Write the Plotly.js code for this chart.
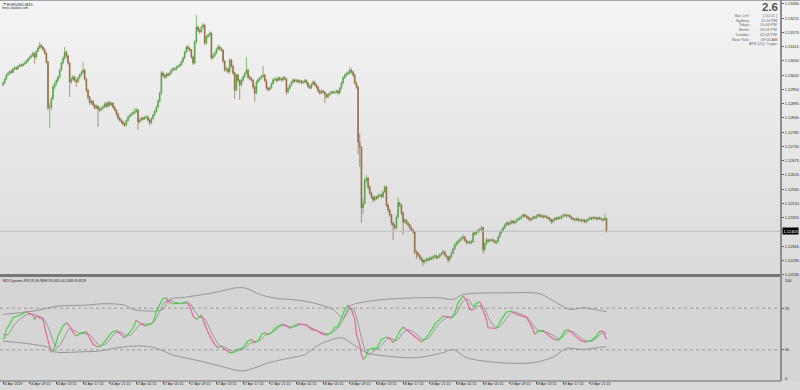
<!DOCTYPE html>
<html>
<head>
<meta charset="utf-8">
<script src="https://cdn.plot.ly/plotly-3.0.1.min.js"></script>
<style>
html,body{margin:0;padding:0;background:#d8d8d8;}
#wrap{position:relative;width:800px;height:390px;overflow:hidden;
background:linear-gradient(to bottom,#a4a4a4 0px,#a4a4a4 1px,#f4f4f4 1px,#dbdbdb 274px,#d5d5d5 274px,#d5d5d5 381px,#d9d9d9 381px,#d9d9d9 390px);}
#chart{position:absolute;left:0;top:0;width:800px;height:390px;}
</style>
</head>
<body>
<div id="wrap"><div id="chart"></div></div>
<script>
// ---------- EURUSD M15 candles (bar 0 = 16 Apr 2019 05:15) ----------
const open = [
1.12968,1.12975,1.12990,1.13006,1.13012,1.13020,1.13016,1.13029,1.13034,1.13030,
1.13040,1.13045,1.13042,1.13048,1.13052,1.13060,1.13068,1.13075,1.13080,1.13090,
1.13074,1.13098,1.13110,1.13120,1.13114,1.13105,1.13091,1.13056,1.12879,1.12882,
1.12915,1.12960,1.12972,1.12985,1.12998,1.13025,1.13052,1.13070,1.13095,1.13080,
1.13052,1.12979,1.12990,1.12998,1.12985,1.12979,1.12995,1.13006,1.13015,1.13025,
1.12990,1.12948,1.12920,1.12898,1.12905,1.12890,1.12879,1.12885,1.12875,1.12871,
1.12878,1.12882,1.12895,1.12885,1.12900,1.12890,1.12897,1.12882,1.12871,1.12855,
1.12840,1.12832,1.12825,1.12818,1.12813,1.12830,1.12844,1.12850,1.12856,1.12859,
1.12865,1.12871,1.12825,1.12832,1.12840,1.12836,1.12842,1.12844,1.12832,1.12821,
1.12838,1.12852,1.12866,1.12882,1.12905,1.12936,1.13014,1.13005,1.12998,1.13010,
1.13006,1.13015,1.13025,1.13030,1.13028,1.13037,1.13040,1.13045,1.13058,1.13072,
1.13095,1.13114,1.13108,1.13102,1.13075,1.13052,1.13133,1.13191,1.13180,1.13172,
1.13190,1.13199,1.13129,1.13153,1.13160,1.13168,1.13072,1.13080,1.13091,1.13105,
1.13114,1.13108,1.13102,1.13060,1.13025,1.13030,1.13018,1.13064,1.13040,1.13014,
1.12948,1.13006,1.12985,1.12967,1.12985,1.12998,1.13012,1.13025,1.12998,1.12992,
1.12987,1.12960,1.12936,1.12979,1.12988,1.12994,1.13000,1.13006,1.12985,1.12956,
1.12950,1.12956,1.12972,1.12987,1.12990,1.12985,1.12994,1.12990,1.12987,1.12995,
1.12991,1.12940,1.12955,1.12967,1.12978,1.12987,1.12982,1.12985,1.12979,1.12983,
1.12976,1.12979,1.12985,1.12975,1.12962,1.12956,1.12970,1.12979,1.12968,1.12960,
1.12945,1.12936,1.12944,1.12940,1.12932,1.12921,1.12930,1.12936,1.12940,1.12938,
1.12940,1.12944,1.12936,1.12955,1.12975,1.12995,1.13006,1.13010,1.13014,1.13025,
1.13018,1.13006,1.12975,1.12960,1.12747,1.12728,1.12493,1.12512,1.12601,1.12608,
1.12574,1.12550,1.12535,1.12523,1.12535,1.12531,1.12540,1.12543,1.12536,1.12554,
1.12574,1.12504,1.12485,1.12466,1.12435,1.12425,1.12416,1.12458,1.12512,1.12504,
1.12473,1.12439,1.12445,1.12435,1.12428,1.12416,1.12408,1.12400,1.12323,1.12319,
1.12310,1.12300,1.12292,1.12284,1.12290,1.12296,1.12292,1.12300,1.12298,1.12304,
1.12308,1.12300,1.12304,1.12312,1.12318,1.12323,1.12310,1.12304,1.12292,1.12305,
1.12319,1.12335,1.12351,1.12358,1.12365,1.12370,1.12376,1.12381,1.12368,1.12359,
1.12362,1.12358,1.12363,1.12396,1.12392,1.12400,1.12405,1.12410,1.12416,1.12332,
1.12355,1.12370,1.12365,1.12368,1.12370,1.12366,1.12360,1.12363,1.12380,1.12396,
1.12405,1.12416,1.12428,1.12435,1.12430,1.12435,1.12442,1.12436,1.12439,1.12446,
1.12450,1.12454,1.12460,1.12466,1.12462,1.12458,1.12452,1.12447,1.12452,1.12458,
1.12455,1.12462,1.12466,1.12460,1.12463,1.12458,1.12461,1.12456,1.12454,1.12446,
1.12439,1.12448,1.12454,1.12450,1.12456,1.12454,1.12460,1.12463,1.12466,1.12462,
1.12464,1.12458,1.12452,1.12450,1.12447,1.12451,1.12445,1.12447,1.12443,1.12446,
1.12439,1.12444,1.12450,1.12454,1.12451,1.12456,1.12454,1.12450,1.12455,1.12451,
1.12449,1.12447,1.12452];
const high = [
1.12980,1.12994,1.13010,1.13018,1.13024,1.13026,1.13033,1.13040,1.13038,1.13044,
1.13050,1.13049,1.13053,1.13058,1.13064,1.13072,1.13080,1.13086,1.13096,1.13093,
1.13102,1.13118,1.13133,1.13126,1.13118,1.13108,1.13094,1.13060,1.12900,1.12922,
1.12966,1.12980,1.12990,1.13004,1.13030,1.13058,1.13078,1.13114,1.13100,1.13084,
1.13055,1.12998,1.13006,1.13003,1.12990,1.13000,1.13012,1.13022,1.13056,1.13030,
1.12995,1.12952,1.12925,1.12912,1.12910,1.12895,1.12892,1.12890,1.12882,1.12884,
1.12890,1.12902,1.12900,1.12906,1.12905,1.12903,1.12900,1.12886,1.12875,1.12860,
1.12846,1.12838,1.12830,1.12824,1.12835,1.12850,1.12856,1.12862,1.12866,1.12879,
1.12878,1.12875,1.12840,1.12846,1.12845,1.12848,1.12852,1.12848,1.12836,1.12843,
1.12857,1.12871,1.12888,1.12911,1.12942,1.13022,1.13020,1.13010,1.13016,1.13015,
1.13020,1.13030,1.13036,1.13035,1.13042,1.13046,1.13050,1.13063,1.13078,1.13100,
1.13120,1.13122,1.13114,1.13106,1.13080,1.13140,1.13238,1.13198,1.13186,1.13196,
1.13207,1.13202,1.13160,1.13166,1.13175,1.13171,1.13088,1.13097,1.13111,1.13124,
1.13120,1.13113,1.13106,1.13064,1.13038,1.13035,1.13070,1.13068,1.13045,1.13018,
1.13012,1.13010,1.12990,1.12992,1.13004,1.13018,1.13075,1.13030,1.13004,1.12998,
1.12990,1.12965,1.12985,1.12995,1.13000,1.13006,1.13040,1.13010,1.12990,1.12962,
1.12962,1.12978,1.12993,1.12998,1.12995,1.13000,1.13000,1.12996,1.13003,1.13002,
1.12995,1.12962,1.12973,1.12984,1.12993,1.12992,1.12991,1.12990,1.12989,1.12987,
1.12985,1.12991,1.12989,1.12980,1.12967,1.12976,1.12985,1.12983,1.12972,1.12964,
1.12950,1.12950,1.12949,1.12945,1.12936,1.12936,1.12942,1.12946,1.12945,1.12946,
1.12950,1.12948,1.12960,1.12981,1.13001,1.13012,1.13018,1.13022,1.13037,1.13030,
1.13022,1.13010,1.12980,1.12964,1.12780,1.12732,1.12530,1.12610,1.12620,1.12612,
1.12580,1.12556,1.12540,1.12542,1.12540,1.12546,1.12550,1.12548,1.12560,1.12580,
1.12578,1.12510,1.12490,1.12470,1.12440,1.12432,1.12465,1.12535,1.12518,1.12508,
1.12478,1.12452,1.12450,1.12440,1.12432,1.12420,1.12412,1.12404,1.12330,1.12324,
1.12315,1.12305,1.12296,1.12296,1.12302,1.12300,1.12306,1.12305,1.12310,1.12314,
1.12312,1.12310,1.12318,1.12324,1.12332,1.12327,1.12314,1.12308,1.12310,1.12325,
1.12340,1.12357,1.12364,1.12372,1.12377,1.12383,1.12390,1.12385,1.12372,1.12368,
1.12366,1.12370,1.12402,1.12400,1.12406,1.12412,1.12416,1.12424,1.12420,1.12360,
1.12376,1.12374,1.12373,1.12376,1.12374,1.12370,1.12368,1.12386,1.12402,1.12411,
1.12422,1.12434,1.12441,1.12440,1.12441,1.12448,1.12446,1.12445,1.12452,1.12456,
1.12460,1.12466,1.12473,1.12470,1.12467,1.12462,1.12456,1.12458,1.12464,1.12462,
1.12468,1.12472,1.12470,1.12469,1.12467,1.12466,1.12465,1.12460,1.12458,1.12450,
1.12453,1.12459,1.12458,1.12462,1.12460,1.12466,1.12470,1.12473,1.12470,1.12469,
1.12468,1.12462,1.12456,1.12454,1.12456,1.12455,1.12452,1.12451,1.12451,1.12450,
1.12449,1.12455,1.12460,1.12458,1.12461,1.12460,1.12458,1.12460,1.12459,1.12455,
1.12453,1.12470,1.12456];
const low = [
1.12962,1.12971,1.12986,1.13001,1.13008,1.13010,1.13013,1.13025,1.13024,1.13027,
1.13036,1.13037,1.13038,1.13044,1.13049,1.13055,1.13064,1.13071,1.13075,1.13050,
1.13070,1.13094,1.13105,1.13108,1.13098,1.13085,1.13050,1.12870,1.12801,1.12870,
1.12910,1.12950,1.12965,1.12980,1.12993,1.13020,1.13046,1.13065,1.13072,1.13045,
1.12921,1.12972,1.12984,1.12978,1.12960,1.12975,1.12990,1.13001,1.13010,1.12984,
1.12940,1.12912,1.12890,1.12892,1.12884,1.12872,1.12874,1.12805,1.12862,1.12866,
1.12873,1.12878,1.12879,1.12880,1.12884,1.12886,1.12876,1.12865,1.12848,1.12833,
1.12826,1.12818,1.12810,1.12805,1.12808,1.12826,1.12840,1.12846,1.12851,1.12854,
1.12860,1.12794,1.12818,1.12826,1.12830,1.12832,1.12837,1.12826,1.12812,1.12816,
1.12833,1.12848,1.12861,1.12878,1.12900,1.12930,1.12996,1.12990,1.12993,1.13000,
1.13002,1.13010,1.13020,1.13022,1.13024,1.13032,1.13036,1.13041,1.13053,1.13068,
1.13090,1.13100,1.13095,1.13068,1.13045,1.13048,1.13128,1.13172,1.13164,1.13168,
1.13185,1.13120,1.13124,1.13148,1.13155,1.13064,1.13066,1.13075,1.13086,1.13100,
1.13100,1.13096,1.13052,1.13018,1.13020,1.13010,1.13014,1.13034,1.13006,1.12913,
1.12942,1.12978,1.12910,1.12962,1.12980,1.12994,1.13008,1.12990,1.12985,1.12980,
1.12952,1.12902,1.12930,1.12974,1.12983,1.12990,1.12995,1.12978,1.12948,1.12942,
1.12944,1.12952,1.12968,1.12982,1.12978,1.12980,1.12984,1.12980,1.12982,1.12985,
1.12929,1.12935,1.12950,1.12962,1.12973,1.12976,1.12977,1.12973,1.12974,1.12970,
1.12971,1.12974,1.12969,1.12956,1.12950,1.12951,1.12965,1.12962,1.12953,1.12938,
1.12930,1.12931,1.12934,1.12898,1.12914,1.12916,1.12926,1.12931,1.12932,1.12933,
1.12935,1.12930,1.12932,1.12950,1.12970,1.12990,1.13000,1.13005,1.13008,1.13010,
1.12998,1.12968,1.12952,1.12700,1.12651,1.12435,1.12470,1.12505,1.12590,1.12565,
1.12542,1.12528,1.12515,1.12518,1.12524,1.12526,1.12535,1.12530,1.12532,1.12550,
1.12496,1.12476,1.12458,1.12426,1.12370,1.12408,1.12412,1.12452,1.12496,1.12465,
1.12389,1.12432,1.12428,1.12420,1.12408,1.12400,1.12392,1.12315,1.12296,1.12302,
1.12292,1.12284,1.12270,1.12278,1.12285,1.12286,1.12288,1.12292,1.12293,1.12299,
1.12294,1.12296,1.12300,1.12308,1.12314,1.12304,1.12298,1.12280,1.12288,1.12300,
1.12315,1.12330,1.12346,1.12353,1.12360,1.12366,1.12371,1.12362,1.12352,1.12354,
1.12352,1.12353,1.12358,1.12386,1.12388,1.12396,1.12400,1.12406,1.12315,1.12326,
1.12350,1.12358,1.12360,1.12363,1.12360,1.12354,1.12352,1.12358,1.12376,1.12391,
1.12400,1.12411,1.12422,1.12424,1.12425,1.12430,1.12430,1.12431,1.12434,1.12441,
1.12446,1.12449,1.12455,1.12456,1.12452,1.12446,1.12440,1.12442,1.12447,1.12449,
1.12450,1.12457,1.12455,1.12455,1.12452,1.12453,1.12450,1.12448,1.12440,1.12432,
1.12434,1.12443,1.12444,1.12446,1.12448,1.12449,1.12455,1.12458,1.12456,1.12457,
1.12452,1.12446,1.12444,1.12440,1.12442,1.12439,1.12440,1.12437,1.12438,1.12433,
1.12435,1.12440,1.12446,1.12446,1.12447,1.12449,1.12444,1.12446,1.12446,1.12443,
1.12441,1.12443,1.12398];
const close = [
1.12975,1.12990,1.13006,1.13012,1.13020,1.13016,1.13029,1.13034,1.13030,1.13040,
1.13045,1.13042,1.13048,1.13052,1.13060,1.13068,1.13075,1.13080,1.13090,1.13074,
1.13098,1.13110,1.13120,1.13114,1.13105,1.13091,1.13056,1.12879,1.12882,1.12915,
1.12960,1.12972,1.12985,1.12998,1.13025,1.13052,1.13070,1.13095,1.13080,1.13052,
1.12979,1.12990,1.12998,1.12985,1.12979,1.12995,1.13006,1.13015,1.13025,1.12990,
1.12948,1.12920,1.12898,1.12905,1.12890,1.12879,1.12885,1.12875,1.12871,1.12878,
1.12882,1.12895,1.12885,1.12900,1.12890,1.12897,1.12882,1.12871,1.12855,1.12840,
1.12832,1.12825,1.12818,1.12813,1.12830,1.12844,1.12850,1.12856,1.12859,1.12865,
1.12871,1.12825,1.12832,1.12840,1.12836,1.12842,1.12844,1.12832,1.12821,1.12838,
1.12852,1.12866,1.12882,1.12905,1.12936,1.13014,1.13005,1.12998,1.13010,1.13006,
1.13015,1.13025,1.13030,1.13028,1.13037,1.13040,1.13045,1.13058,1.13072,1.13095,
1.13114,1.13108,1.13102,1.13075,1.13052,1.13133,1.13191,1.13180,1.13172,1.13190,
1.13199,1.13129,1.13153,1.13160,1.13168,1.13072,1.13080,1.13091,1.13105,1.13114,
1.13108,1.13102,1.13060,1.13025,1.13030,1.13018,1.13064,1.13040,1.13014,1.12948,
1.13006,1.12985,1.12967,1.12985,1.12998,1.13012,1.13025,1.12998,1.12992,1.12987,
1.12960,1.12936,1.12979,1.12988,1.12994,1.13000,1.13006,1.12985,1.12956,1.12950,
1.12956,1.12972,1.12987,1.12990,1.12985,1.12994,1.12990,1.12987,1.12995,1.12991,
1.12940,1.12955,1.12967,1.12978,1.12987,1.12982,1.12985,1.12979,1.12983,1.12976,
1.12979,1.12985,1.12975,1.12962,1.12956,1.12970,1.12979,1.12968,1.12960,1.12945,
1.12936,1.12944,1.12940,1.12932,1.12921,1.12930,1.12936,1.12940,1.12938,1.12940,
1.12944,1.12936,1.12955,1.12975,1.12995,1.13006,1.13010,1.13014,1.13025,1.13018,
1.13006,1.12975,1.12960,1.12747,1.12728,1.12493,1.12512,1.12601,1.12608,1.12574,
1.12550,1.12535,1.12523,1.12535,1.12531,1.12540,1.12543,1.12536,1.12554,1.12574,
1.12504,1.12485,1.12466,1.12435,1.12425,1.12416,1.12458,1.12512,1.12504,1.12473,
1.12439,1.12445,1.12435,1.12428,1.12416,1.12408,1.12400,1.12323,1.12319,1.12310,
1.12300,1.12292,1.12284,1.12290,1.12296,1.12292,1.12300,1.12298,1.12304,1.12308,
1.12300,1.12304,1.12312,1.12318,1.12323,1.12310,1.12304,1.12292,1.12305,1.12319,
1.12335,1.12351,1.12358,1.12365,1.12370,1.12376,1.12381,1.12368,1.12359,1.12362,
1.12358,1.12363,1.12396,1.12392,1.12400,1.12405,1.12410,1.12416,1.12332,1.12355,
1.12370,1.12365,1.12368,1.12370,1.12366,1.12360,1.12363,1.12380,1.12396,1.12405,
1.12416,1.12428,1.12435,1.12430,1.12435,1.12442,1.12436,1.12439,1.12446,1.12450,
1.12454,1.12460,1.12466,1.12462,1.12458,1.12452,1.12447,1.12452,1.12458,1.12455,
1.12462,1.12466,1.12460,1.12463,1.12458,1.12461,1.12456,1.12454,1.12446,1.12439,
1.12448,1.12454,1.12450,1.12456,1.12454,1.12460,1.12463,1.12466,1.12462,1.12464,
1.12458,1.12452,1.12450,1.12447,1.12451,1.12445,1.12447,1.12443,1.12446,1.12439,
1.12444,1.12450,1.12454,1.12451,1.12456,1.12454,1.12450,1.12455,1.12451,1.12449,
1.12447,1.12452,1.12403];

// ---------- Dynamic RSI (9) ----------
const rsiBar = [0,1,2,4,6,9,12,14,16,18,
19,20,22,24,26,28,29,31,33,36,
38,40,42,44,47,50,52,54,57,59,
62,65,68,71,73,75,78,80,82,85,
87,90,92,94,96,98,99,101,104,107,
110,112,114,116,118,119,121,124,127,129,
131,133,136,138,141,144,147,149,151,153,
155,157,159,161,164,167,170,172,175,177,
179,182,185,188,191,194,197,199,201,203,
205,207,209,211,212,214,215,216,218,219,
221,224,227,230,232,234,236,238,240,242,
245,248,251,253,256,259,262,264,266,269,
271,273,276,278,280,282,283,286,288,290,
291,294,296,299,302,305,307,311,314,317,
319,321,324,326,329,332,334,337,339,341,
344,347,350,353,356,358,360,362];
const rsiValue = [40.0,41.6,49.6,54.4,60.8,62.4,64.7,67.2,64.7,63.4,
59.2,62.4,60.8,59.2,44.8,32.0,27.2,32.0,43.2,52.8,
56.0,52.8,46.4,43.2,46.4,47.3,41.6,35.2,32.7,33.6,
40.0,46.4,48.7,44.8,41.6,44.8,51.2,58.3,56.0,52.8,
54.4,56.0,67.2,73.6,79.4,80.0,76.8,74.3,74.3,74.6,
76.3,72.0,62.4,59.2,62.4,63.4,54.4,43.2,35.2,32.0,
33.6,30.4,27.2,27.2,30.4,32.0,38.4,40.0,36.8,38.4,
44.8,46.4,44.8,46.4,51.9,54.4,52.8,50.6,53.8,55.1,
54.4,53.8,49.6,48.7,45.5,44.1,46.4,51.2,52.8,60.8,
68.8,73.0,68.8,59.2,44.8,35.2,25.6,20.8,24.0,29.5,
31.3,31.3,40.0,42.3,40.9,36.8,41.6,48.0,51.9,49.6,
45.5,41.6,37.7,40.0,46.4,54.4,59.2,62.4,62.0,60.2,
65.6,75.2,81.6,78.4,68.8,68.4,73.6,76.3,67.2,59.2,
51.2,50.8,50.6,59.2,66.3,67.2,64.7,62.4,61.5,52.8,
44.8,48.0,48.7,45.5,41.6,39.1,40.0,48.0,49.6,46.4,
42.3,38.4,37.7,39.1,43.2,48.0,47.3,40.3];

const signalBar = [0,3,6,9,12,15,18,21,24,27,
30,32,34,37,40,43,46,49,52,55,
58,61,64,67,70,73,76,79,82,85,
88,91,94,97,100,103,106,109,112,115,
118,121,124,127,130,133,136,139,142,145,
148,151,154,157,160,163,166,169,172,175,
178,181,184,187,190,193,196,199,202,205,
208,210,212,214,216,218,220,222,225,228,
231,233,235,237,240,243,246,249,252,255,
258,261,264,267,270,273,276,279,282,285,
288,291,294,297,300,303,306,309,312,315,
318,321,324,327,330,333,336,339,342,345,
348,351,354,357,360,362];
const signalValue = [44.6,44.6,52.2,57.8,61.6,64.4,64.4,62.5,60.6,52.2,
39.0,32.4,34.3,42.7,50.3,48.4,45.6,45.6,44.6,39.0,
34.3,35.2,39.9,45.6,47.4,44.6,43.7,48.4,54.0,55.0,
54.0,57.8,67.2,75.7,77.6,75.7,74.8,74.8,74.8,67.2,
61.6,59.7,50.3,40.9,34.3,32.4,29.5,28.6,29.5,31.4,
36.1,38.0,39.0,43.7,45.6,48.4,52.2,54.0,52.2,52.2,
54.0,54.0,52.2,49.3,47.4,45.6,45.6,48.4,53.1,61.6,
69.1,69.1,61.6,48.4,36.1,26.7,25.8,28.6,31.4,36.1,
40.9,40.9,39.0,39.9,46.5,49.3,47.4,43.7,39.9,40.9,
47.4,54.0,58.7,61.6,61.6,68.2,76.6,78.5,72.0,72.0,
72.0,61.6,54.0,51.2,55.9,62.5,66.3,65.3,63.5,60.6,
54.0,48.4,47.4,46.5,43.7,40.9,42.7,47.4,47.4,43.7,
39.9,38.0,39.0,42.7,46.5,45.8];

const upperBar = [0,18,33,50,60,73,78,90,96,100,110,126,140,146,154,164,174,181,188,198,204,208,220,238,262,270,276,302,322,332,340,348,360,362];
const upperValue = [64.0,67.2,72.0,73.0,74.3,73.0,68.8,67.2,68.8,78.4,80.7,84.8,89.6,89.1,83.2,79.4,78.2,76.8,74.3,68.8,60.8,72.0,76.8,79.4,80.0,78.4,83.2,84.8,83.9,75.2,68.8,70.4,67.2,67.0];
const lowerBar = [0,10,18,28,31,48,58,66,78,88,94,102,118,130,143,150,158,168,178,181,190,203,210,218,230,248,264,270,278,298,318,330,338,348,360,362];
const lowerValue = [38.4,36.8,35.2,32.0,28.1,28.1,28.8,31.3,33.6,33.0,30.4,25.0,19.2,14.4,9.6,12.1,16.9,20.8,24.0,25.3,35.2,41.6,35.2,27.2,24.0,22.4,27.2,30.4,22.4,17.6,17.6,23.0,31.3,30.4,32.7,33.0];

const rsiLevels = [70, 30];

// ---------- axis labels ----------
const timeTickBar = [0,16,32,48,64,80,96,112,128,144,160,176,192,208,224,240,256,272,288,304,320,336,352];
const timeTickLabel = ['16 Apr 2019','16 Apr 09:15','16 Apr 13:15','16 Apr 17:15','16 Apr 21:15',
 '17 Apr 01:15','17 Apr 05:15','17 Apr 09:15','17 Apr 13:15','17 Apr 17:15','17 Apr 21:15',
 '18 Apr 01:15','18 Apr 05:15','18 Apr 09:15','18 Apr 13:15','18 Apr 17:15','18 Apr 21:15',
 '19 Apr 01:15','19 Apr 05:15','19 Apr 09:15','19 Apr 13:15','19 Apr 17:15','19 Apr 21:15'];
const priceTick = [1.12235,1.12290,1.12345,1.12455,1.12510,1.12565,1.12620,1.12675,1.12730,1.12785,
 1.12840,1.12895,1.12950,1.13005,1.13060,1.13115,1.13170,1.13225,1.13280];

const infoLabels = ['Bar Left :','Sydney :','Tokyo :','Berlin :','London :','New York :'];
const infoValues = ['[ 05:01 ]','11:04 PM','10:04 PM','03:04 PM','02:04 PM','09:04 AM'];
const atrText = 'ATR (20): 5 pips';
const spreadText = '2.6';
const symbolText = 'EURUSD,M15';
const siteText = 'forex-station.com';
const rsiTitle = 'M15 Dynamic RSI (9) 66.9688 33.0310 40.2648 45.8378';

// ---------- build ----------
const FONT = '"Liberation Sans", Arial, sans-serif';
const PW = 781, PH = 381;
const fx = x => x / PW, fy = y => 1 - y / PH;
const bars = close.map((_, i) => i);
const last = close[close.length - 1];

const traces = [];
traces.push({type:'candlestick', x:bars, open:open, high:high, low:low, close:close,
  xaxis:'x', yaxis:'y', whiskerwidth:0, hoverinfo:'skip', showlegend:false,
  increasing:{line:{color:'#58a548', width:0.7}, fillcolor:'#3d9b2e'},
  decreasing:{line:{color:'#8f6c3e', width:0.7}, fillcolor:'#935e2c'}});

function grayLine(xs, ys){
  return {type:'scatter', mode:'lines', x:xs, y:ys, xaxis:'x', yaxis:'y2', hoverinfo:'skip', showlegend:false,
    line:{color:'#8e8e8e', width:0.9, shape:'spline', smoothing:0.8}};
}
traces.push(grayLine(upperBar, upperValue));
traces.push(grayLine(lowerBar, lowerValue));
traces.push(grayLine(signalBar, signalValue));

const runs = []; let run = null;
for (let k = 0; k < rsiBar.length - 1; k++) {
  const up = rsiValue[k + 1] >= rsiValue[k];
  if (!run || run.up !== up) { run = {up:up, x:[rsiBar[k]], y:[rsiValue[k]]}; runs.push(run); }
  run.x.push(rsiBar[k + 1]); run.y.push(rsiValue[k + 1]);
}
runs.forEach(r => traces.push({type:'scatter', mode:'lines', x:r.x, y:r.y, xaxis:'x', yaxis:'y2',
  hoverinfo:'skip', showlegend:false, line:{color:r.up ? '#3fd83f' : '#e8649a', width:1.2}}));

function txt(t, x, y, size, color, anchor, bold){
  return {text: bold ? '<b>' + t + '</b>' : t, xref:'paper', yref:'paper', x:fx(x), y:fy(y),
    xanchor:anchor || 'left', yanchor:'middle', showarrow:false, borderpad:0,
    font:{size:size, color:color, family:FONT}};
}
const ann = [];
ann.push(txt('\u25BC', 1.5, 4, 3.5, '#222', 'left'));
ann.push(txt(symbolText, 6, 4, 4, '#222', 'left'));
ann.push(txt(siteText, 1, 8, 3.4, '#333', 'left'));
ann.push(txt(spreadText, 779, 7.5, 11.5, '#555', 'right', true));
const rowY = [15.4, 20.1, 24.8, 29.5, 34.3, 39];
infoLabels.forEach((l, k) => {
  ann.push(txt(l, 752, rowY[k], 3.9, '#666', 'right'));
  ann.push(txt(infoValues[k], 778, rowY[k], 3.9, '#666', 'right'));
});
ann.push(txt(atrText, 778, 43.8, 3.9, '#666', 'right'));
ann.push(txt(rsiTitle, 1.5, 281, 3.3, '#222', 'left'));
ann.push(txt('100', 783.5, 280, 3.9, '#222', 'left'));
ann.push(txt('0', 783.5, 378, 3.9, '#222', 'left'));
timeTickBar.forEach((b, k) => ann.push({text:timeTickLabel[k], xref:'x', x:b, xanchor:'left', xshift:-1,
  yref:'paper', y:fy(384.5), yanchor:'middle', showarrow:false, borderpad:0,
  font:{size:3.6, color:'#222', family:FONT}}));
ann.push({text:last.toFixed(5), xref:'paper', x:1, xanchor:'left', xshift:1, yref:'y', y:last,
  yanchor:'middle', showarrow:false, bgcolor:'#000', borderpad:0.6,
  font:{size:3.9, color:'#fff', family:FONT}});

const shapes = [];
shapes.push({type:'line', xref:'paper', x0:0, x1:1, yref:'y', y0:last, y1:last, line:{color:'#bcbcbc', width:1}});
rsiLevels.forEach(v => shapes.push({type:'line', xref:'paper', x0:0, x1:1, yref:'y2', y0:v, y1:v,
  line:{color:'#8a8a8a', width:0.8, dash:'dot'}}));
shapes.push({type:'rect', xref:'paper', x0:0, x1:1, yref:'paper', y0:fy(277), y1:fy(274),
  fillcolor:'#777777', line:{width:0}, layer:'above'});
shapes.push({type:'line', xref:'paper', x0:1, x1:1, yref:'paper', y0:0, y1:1, line:{color:'#8c8c8c', width:2}});
shapes.push({type:'line', xref:'paper', x0:0, x1:1, yref:'paper', y0:0, y1:0, line:{color:'#8c8c8c', width:1.5}});

const layout = {
  width:800, height:390, margin:{l:0, r:19, t:0, b:9, pad:0},
  paper_bgcolor:'rgba(0,0,0,0)', plot_bgcolor:'rgba(0,0,0,0)',
  showlegend:false, hovermode:false, font:{family:FONT, color:'#222'},
  xaxis:{range:[-1.8, 466.7], anchor:'y2', tickmode:'array', tickvals:timeTickBar,
    showticklabels:false, ticks:'outside', ticklen:2, tickwidth:1, tickcolor:'#666',
    showgrid:false, zeroline:false, showline:false, rangeslider:{visible:false}, fixedrange:true},
  yaxis:{domain:[fy(275), 1], range:[1.12234, 1.132954], side:'right', anchor:'x',
    tickmode:'array', tickvals:priceTick, ticktext:priceTick.map(v => v.toFixed(5)),
    ticks:'outside', ticklen:2, tickcolor:'#666', tickfont:{size:3.9, family:FONT, color:'#222'},
    showgrid:false, zeroline:false, showline:false, fixedrange:true},
  yaxis2:{domain:[0, fy(277)], range:[0, 100], side:'right', anchor:'x',
    tickmode:'array', tickvals:rsiLevels, ticktext:rsiLevels.map(String),
    ticks:'outside', ticklen:2, tickcolor:'#666', tickfont:{size:3.9, family:FONT, color:'#222'},
    showgrid:false, zeroline:false, showline:false, fixedrange:true},
  shapes:shapes, annotations:ann
};

Plotly.newPlot('chart', traces, layout, {staticPlot:true, displayModeBar:false});
</script>
</body>
</html>
